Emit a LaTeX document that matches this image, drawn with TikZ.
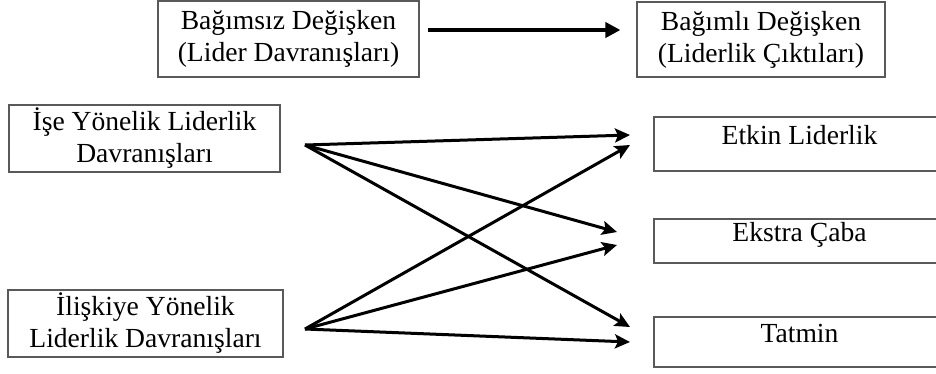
\documentclass[tikz,border=0pt]{standalone}
\usepackage{fontspec}
\setmainfont{Liberation Serif}
\usetikzlibrary{arrows.meta}

\tikzset{
  box/.style={draw=black!65, line width=1.2pt, inner sep=0pt, align=center,
              font=\fontsize{27.6}{32}\selectfont},
  outbox/.style={box, minimum width=291pt, text height=17pt, text depth=17pt},
  link/.style={line width=3pt, -{Stealth[length=15pt,width=14pt,inset=3pt]}},
  mainlink/.style={line width=4.8pt, -{Triangle[length=15pt,width=15pt]}}
}

\begin{document}
\begin{tikzpicture}[x=1pt,y=-1pt]
  \useasboundingbox (0,0) rectangle (936,373);
  \clip (0,0) rectangle (936,373);

  % header boxes
  \node[box, minimum width=261pt, minimum height=76pt] (indep) at (288.5,39)
    {Bağımsız Değişken\\(Lider Davranışları)};
  \node[box, minimum width=248pt, minimum height=75pt] (dep) at (761,39.5)
    {Bağımlı Değişken\\(Liderlik Çıktıları)};
  \draw[mainlink] ([xshift=8pt]indep.east |- 0,30) -- ([xshift=-16pt]dep.west |- 0,30);

  % leadership behaviours
  \node[box, minimum width=271pt, minimum height=67pt] (task) at (144.5,138.5)
    {İşe Yönelik Liderlik\\Davranışları};
  \node[box, minimum width=275pt, minimum height=67pt] (rel) at (145.5,323.5)
    {İlişkiye Yönelik\\Liderlik Davranışları};

  % outcomes
  \node[outbox, minimum height=54pt] (eff) at (799.5,144) {Etkin Liderlik};
  \node[outbox, minimum height=44pt] (extra) at (799.5,241) {Ekstra Çaba};
  \node[outbox, minimum height=50pt] (sat) at (799.5,342) {Tatmin};

  % arrow ends
  \coordinate (taskout) at (305,145);
  \coordinate (relout) at (305,329);
  \coordinate (effA) at (630,135);
  \coordinate (effB) at (630,145);
  \coordinate (extraA) at (617,232);
  \coordinate (extraB) at (617,245);
  \coordinate (satA) at (630,327);
  \coordinate (satB) at (630,342);

  \draw[link] (taskout) -- (effA);
  \draw[link] (taskout) -- (extraA);
  \draw[link] (taskout) -- (satA);
  \draw[link] (relout) -- (effB);
  \draw[link] (relout) -- (extraB);
  \draw[link] (relout) -- (satB);
\end{tikzpicture}
\end{document}
